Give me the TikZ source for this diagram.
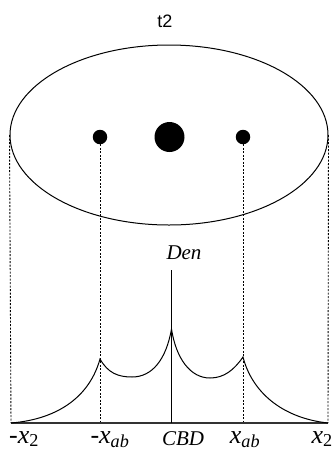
\documentclass[tikz,border=0pt]{standalone}
\usepackage{amsmath}
\usepackage{fontspec}
\setmainfont{Liberation Serif}
\newfontfamily\titlefont{Liberation Sans}
\usetikzlibrary{shapes.geometric}

\tikzset{
  guide/.style={black, line width=0.9pt, dash pattern=on 2pt off 1.5pt},
  spot/.style={circle, fill=black, inner sep=0pt},
  axislab/.style={font=\fontsize{26}{28}\selectfont, anchor=base, inner sep=1pt},
}

\begin{document}
\begin{tikzpicture}[x=1pt,y=1pt]
\useasboundingbox (0,-451) rectangle (334,0);
\node[font=\titlefont\fontsize{18}{20}\selectfont] (title) at (165,-21) {t2};
\node[draw, ellipse, line width=1pt, inner sep=0pt, minimum width=318, minimum height=180] (city) at (169,-135) {};
\node[spot, minimum size=14.5] (suba) at (100,-137) {};
\node[spot, minimum size=30] (core) at (169.5,-137) {};
\node[spot, minimum size=14.5] (subb) at (243,-137) {};
\coordinate (lxtwo) at (11,-423);
\coordinate (lxab) at (100,-423);
\coordinate (orig) at (171.5,-423);
\coordinate (rxab) at (243,-423);
\coordinate (rxtwo) at (328,-423);
\coordinate (dtop) at (171.5,-270);
\draw[guide] (city.west) -- (lxtwo);
\draw[guide] (suba) -- (lxab);
\draw[guide] (subb) -- (rxab);
\draw[guide] (city.east) -- (rxtwo);
\draw[black!80, line width=1.4pt] (lxtwo) -- (rxtwo);
\draw[black, line width=0.9pt] (orig) -- (dtop);
\node[font=\fontsize{21}{23}\selectfont\itshape] (den) at (184,-253) {Den};
\draw[black, line width=1pt] (lxtwo) .. controls (60,-419) and (90,-395) .. (100,-359)
  .. controls (108,-373) and (118,-377) .. (132,-377)
  .. controls (152,-377) and (166,-360) .. (171.5,-329)
  .. controls (176,-358) and (190,-378) .. (210,-378)
  .. controls (224,-378) and (234,-370) .. (243,-357)
  .. controls (252,-392) and (282,-418) .. (rxtwo);
\node[axislab] (labl2) at (24,-443) {-$\textit{x}_{\textup{2}}$};
\node[axislab] (labla) at (110,-443) {-$\textit{x}_{\textit{ab}}$};
\node[font=\fontsize{21}{23}\selectfont\itshape, anchor=base, inner sep=1pt] (labc) at (183,-445) {CBD};
\node[axislab] (labra) at (245,-443) {$\textit{x}_{\textit{ab}}$};
\node[axislab, anchor=base east] (labr2) at (334,-443) {$\textit{x}_{\textup{2}}$};
\end{tikzpicture}
\end{document}
